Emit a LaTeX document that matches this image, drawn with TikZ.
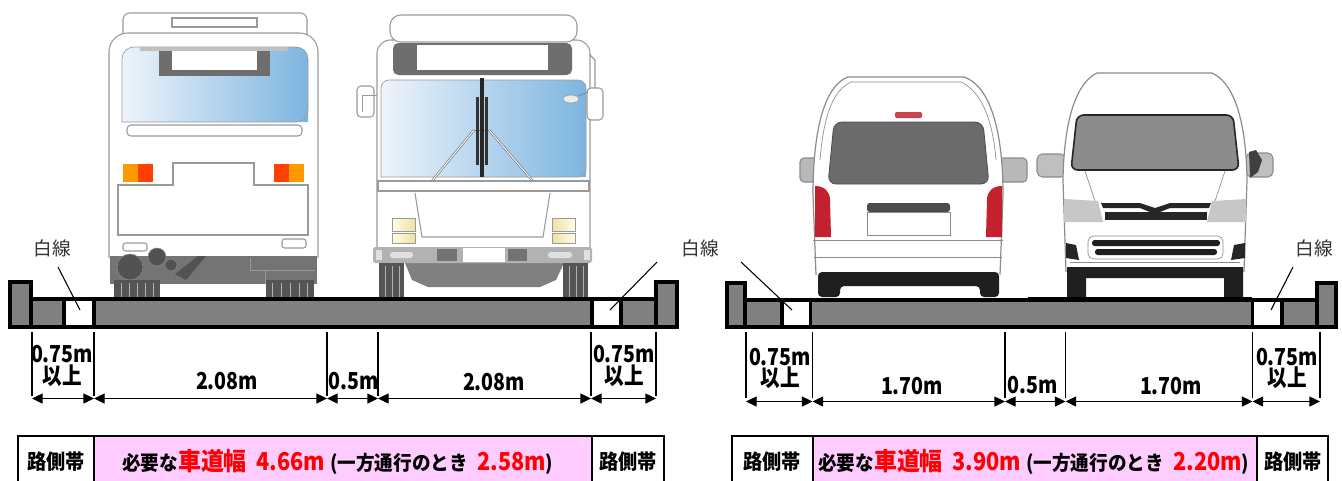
\documentclass[tikz,border=0pt]{standalone}
\usepackage{fontspec}
\newfontfamily\jp{Noto Sans CJK JP}
\newfontfamily\jpn{Noto Sans CJK JP}[FakeStretch=0.93]
\newfontfamily\jpd{Noto Sans CJK JP}[FakeStretch=0.84]
\newfontfamily\jpe{Noto Sans CJK JP}[FakeStretch=0.88]
\usetikzlibrary{arrows.meta,calc}
\definecolor{roadg}{HTML}{808080}
\definecolor{busol}{HTML}{9A9A9A}
\definecolor{glassL}{HTML}{EEF4FB}
\definecolor{glassR}{HTML}{7DB5E0}
\definecolor{dkg}{HTML}{6E6E6E}
\definecolor{undg}{HTML}{747474}
\definecolor{whl}{HTML}{555555}
\definecolor{pinkc}{HTML}{FFCCFF}
\definecolor{redc}{HTML}{FF0000}
\definecolor{vanol}{HTML}{8C8C8C}
\definecolor{vanwin}{HTML}{6B6B6B}
\definecolor{tail}{HTML}{C3212E}
\definecolor{orng}{HTML}{FF9900}
\definecolor{rorng}{HTML}{FF4000}
\definecolor{turn}{HTML}{FFAA00}
\definecolor{hlL}{HTML}{FFFDE8}
\definecolor{hlR}{HTML}{EEE2A0}
\newcommand\txtK[1]{{\jpn\bfseries\fontsize{15}{15}\selectfont #1}}
\newcommand\txtR[1]{{\color{redc}\jpn\bfseries\fontsize{18.5}{18.5}\selectfont #1}}
\newcommand\txtD[1]{{\color{redc}\jpe\bfseries\fontsize{18.5}{18.5}\selectfont #1}}
\tikzset{
 roadfill/.style={fill=roadg, draw=black, line width=3pt},
 whiteline/.style={fill=white, draw=black, line width=3pt},
 ext/.style={line width=0.9pt},
 dim/.style={{Triangle[length=8pt,width=7.5pt]}-{Triangle[length=8pt,width=7.5pt]}, line width=1pt},
 dimlbl/.style={font=\jpd\bfseries\fontsize{17.5}{17.5}\selectfont, inner sep=0pt},
 wlbl/.style={font=\jp\fontsize{14}{14}\selectfont, inner sep=0pt, text=black!80},
 leader/.style={line width=0.8pt},
 cellb/.style={draw=black, line width=1.5pt},
 celltxt/.style={font=\jpn\bfseries\fontsize{15.5}{16}\selectfont, inner sep=0pt},
 maintxt/.style={inner sep=0pt},
 bus/.style={draw=busol, line width=0.8pt},
 van/.style={draw=vanol, line width=0.8pt},
}
\begin{document}
\begin{tikzpicture}[x=0.75pt,y=-0.75pt]
\useasboundingbox (0,0) rectangle (1342,480);
\fill[white] (0,0) rectangle (1342,480);

%================ BUS REAR =================
\draw[bus, fill=white, rounded corners=5pt] (123,36) -- (123,13) -- (307,13) -- (307,36);
\draw[bus, fill=white] (172,18) rectangle (257,27);
\draw[bus, fill=white, rounded corners=14pt] (109,258) -- (109,33) -- (318,33) -- (318,258);
\shade[left color=glassL, right color=glassR, rounded corners=9pt] (122,122) -- (122,47) -- (308,47) -- (308,122);
\draw[bus, line width=0.5pt, rounded corners=9pt] (122,122) -- (122,47) -- (308,47) -- (308,122) -- (122,122);
\fill[black!25] (140,47) rectangle (288,51);
\fill[dkg] (159,51) rectangle (270,76);
\fill[white] (172,51) rectangle (257,70);
\draw[bus, fill=white, rounded corners=3pt] (127,125) rectangle (302,136);
\fill[orng] (123,164) rectangle (138,182);
\fill[rorng] (138,164) rectangle (153,182);
\fill[rorng] (274,164) rectangle (289,182);
\fill[orng] (289,164) rectangle (304,182);
\draw[bus] (118,185) -- (173,185) -- (173,163) -- (254,163) -- (254,185) -- (308,185) -- (308,235) -- (118,235) -- cycle;
\draw[bus, rounded corners=2pt] (123,243) rectangle (147,251);
\draw[bus, rounded corners=2pt] (282,239) rectangle (306,248);
\fill[undg] (110,256) rectangle (317,284);
\draw[black!40, line width=0.5pt] (250,258) -- (250,270) -- (315,270);
\draw[black!40, line width=0.5pt] (265,270) -- (265,284);
\fill[black!68] (175,274) -- (198,256) -- (206,256) -- (186,280) -- cycle;
\draw[black!45, fill=black!68] (130,267) circle[radius=13];
\draw[black!45, fill=black!68] (157,257) circle[radius=9];
\draw[black!45, fill=black!68] (171,265) circle[radius=6];
\fill[whl] (114,280) rectangle (160,297);
\fill[whl] (266,280) rectangle (314,297);
\foreach \xx in {121,129,137,145,153,272,281,290,299,307} {\draw[black!30, line width=0.6pt] (\xx,283) -- (\xx,297);}

%================ BUS FRONT =================
\draw[bus, fill=white, rounded corners=10pt] (377,248) -- (377,40) -- (590,40) -- (590,248);
\draw[bus, fill=white, rounded corners=8pt] (390,15) rectangle (577,42);
\fill[dkg, rounded corners=4pt] (393,43) rectangle (572,75);
\fill[white] (417,45) rectangle (548,70);
\draw[bus] (590,55) -- (595,60) -- (595,88);
\draw[bus, fill=white, rounded corners=3pt] (357,86) rectangle (374,117);
\draw[bus, line width=0.5pt] (362,112) -- (362,95) -- (377,95);
\draw[bus, fill=white, rounded corners=3pt] (587,88) rectangle (603,120);
\shade[left color=glassL, right color=glassR, rounded corners=6pt] (381,177) -- (381,80) -- (586,80) -- (586,177);
\draw[bus, line width=0.5pt, rounded corners=6pt] (381,177) -- (381,80) -- (586,80) -- (586,177) -- (381,177);
\draw[black!40, line width=0.5pt, fill=black!8] (571,99) ellipse[x radius=8, y radius=4];
\draw[black!50, line width=0.5pt] (578,96) -- (588,92);
\draw[double=white, double distance=0.7pt, draw=black!55, line width=0.5pt] (474,130) -- (427,187);
\draw[double=white, double distance=0.7pt, draw=black!55, line width=0.5pt] (489,130) -- (538,187);
\draw[black!55, line width=0.6pt] (474,130) -- (489,130);
\fill[black!85] (422,186) rectangle (432,190);
\fill[black!85] (533,186) rectangle (543,190);
\fill[black!85] (479.5,78) rectangle (483.5,177);
\fill[black!80] (476,97) rectangle (478.5,165);
\fill[black!80] (485,97) rectangle (487.5,165);
\draw[bus, fill=white] (378,181) rectangle (589,191);
\draw[bus] (415,193) -- (422,237) -- (543,237) -- (550,193);
\shade[left color=hlL, right color=hlR, draw=busol, line width=0.4pt] (392,218) rectangle (415,231);
\shade[left color=hlL, right color=hlR, draw=busol, line width=0.4pt] (392,233) rectangle (415,243);
\shade[left color=hlR, right color=hlL, draw=busol, line width=0.4pt] (552,218) rectangle (575,231);
\shade[left color=hlR, right color=hlL, draw=busol, line width=0.4pt] (552,233) rectangle (575,243);
\fill[turn, rounded corners=3pt] (375,218) rectangle (387,238);
\fill[turn, rounded corners=3pt] (579,218) rectangle (591,238);
\fill[black!50] (405,263) -- (564,263) -- (556,280) -- (540,287) -- (428,287) -- (412,280) -- cycle;
\fill[black!30, rounded corners=2pt] (373,247) rectangle (592,263);
\fill[black!12] (376,250) rectangle (382,260);
\fill[black!12, rounded corners=2pt] (390,252) rectangle (413,258);
\fill[black!55] (437,249) rectangle (457,261);
\fill[white] (463,248) rectangle (505,262);
\fill[black!55] (508,249) rectangle (527,261);
\fill[black!12, rounded corners=2pt] (548,252) rectangle (572,258);
\fill[black!12] (584,250) rectangle (590,260);
\fill[whl] (379,263) rectangle (404,297);
\fill[whl] (563,263) rectangle (588,297);
\foreach \xx in {385,392,399,569,576,583} {\draw[black!30, line width=0.6pt] (\xx,266) -- (\xx,297);}

%================ VAN REAR =================
\draw[van, fill=black!28, rounded corners=3pt] (800,158) rectangle (818,182);
\draw[van, fill=black!28, rounded corners=3pt] (999,158) rectangle (1027,182);
\draw[van, line width=0.9pt, fill=white] (816,275) -- (813,195) .. controls (813,125) and (826,85) .. (848,77) -- (964,77) .. controls (988,85) and (1003,125) .. (1003,195) -- (1000,275);
\draw[van, line width=0.5pt] (820,160) .. controls (824,112) and (834,90) .. (851,82) -- (961,82) .. controls (978,90) and (992,112) .. (996,160);
\fill[vanwin, draw=black!70, line width=0.6pt, rounded corners=6pt] (834,122) -- (828,184) -- (989,184) -- (983,122) -- cycle;
\fill[tail!85, rounded corners=1pt] (895,112) rectangle (922,118);
\fill[tail] (815,186) .. controls (825,186) and (830,192) .. (830,200) -- (831,237) -- (815,237) -- cycle;
\fill[tail] (1002,186) .. controls (992,186) and (987,192) .. (987,200) -- (986,237) -- (1002,237) -- cycle;
\fill[black!70, rounded corners=2pt] (867,203) rectangle (950,212);
\draw[van, line width=0.5pt] (867,212) rectangle (950,235);
\draw[van, line width=0.6pt] (813,240) -- (1003,240);
\draw[van, line width=0.6pt] (814,257) -- (1002,257);
\fill[black!88, rounded corners=3pt] (818,272) -- (999,272) -- (999,297) -- (980,297) -- (980,286) -- (840,286) -- (840,297) -- (818,297) -- cycle;

%================ VAN FRONT =================
\draw[van, fill=black!25, rounded corners=4pt] (1037,154) rectangle (1066,177);
\draw[van, fill=black!25, rounded corners=4pt] (1246,153) rectangle (1273,177);
\fill[black!75] (1249,152) -- (1256,150) -- (1262,160) -- (1258,172) -- (1250,178) -- cycle;
\draw[van, line width=0.9pt, fill=white] (1066,272) -- (1063,180) .. controls (1064,115) and (1078,82) .. (1097,73) -- (1212,73) .. controls (1232,82) and (1246,115) .. (1247,180) -- (1244,272);
\draw[black!85, line width=1.2pt, fill=black!45, rounded corners=5pt] (1077,115) -- (1071,170) -- (1239,170) -- (1233,115) -- cycle;
\draw[van, line width=0.5pt] (1085,171) -- (1102,222);
\draw[van, line width=0.5pt] (1225,171) -- (1208,222);
\fill[black!22] (1064,199) -- (1098,201) -- (1103,222) -- (1064,222) -- cycle;
\fill[black!22] (1246,199) -- (1212,201) -- (1207,222) -- (1246,222) -- cycle;
\fill[black!85] (1101,203) -- (1140,203) -- (1155,208) -- (1170,203) -- (1211,203) -- (1209,208) -- (1170,208) -- (1155,214) -- (1140,208) -- (1103,208) -- cycle;
\fill[black!85] (1105,212) rectangle (1207,220);
\draw[van, line width=0.5pt, rounded corners=4pt] (1088,236) rectangle (1223,259);
\fill[black!88, rounded corners=2pt] (1092,240) rectangle (1220,246);
\fill[black!88, rounded corners=2pt] (1095,249) rectangle (1217,255);
\fill[black!85] (1066,243) -- (1076,245) -- (1079,260) -- (1066,258) -- cycle;
\fill[black!85] (1245,243) -- (1234,245) -- (1231,260) -- (1245,258) -- cycle;
\draw[van, line width=0.5pt] (1070,262) -- (1240,262);
\fill[black!88] (1067,267) -- (1243,267) -- (1243,297) -- (1224,297) -- (1224,278) -- (1086,278) -- (1086,297) -- (1067,297) -- cycle;

%================ ROADS =================
\path[roadfill] (10,299) rectangle (677,327);
\path[roadfill] (10,282) rectangle (31,327);
\path[roadfill] (656,282) rectangle (677,327);
\path[whiteline] (64,299) rectangle (94,327);
\path[whiteline] (592,299) rectangle (621,327);

\path[roadfill, line width=2.5pt] (727,300) rectangle (1336,327);
\path[roadfill, line width=2.5pt] (727,283) rectangle (745,327);
\path[roadfill, line width=2.5pt] (1317,283) rectangle (1336,327);
\path[whiteline, line width=2.5pt] (782,300) rectangle (810.5,327);
\path[whiteline, line width=2.5pt] (1252.5,300) rectangle (1282,327);
\draw[line width=1.2pt] (1028,297.6) -- (1252,297.6);

%================ WHITE LINE LABELS =================
\node[wlbl] (wl1) at (52,248) {白線};
\node[wlbl] (wl2) at (700,248) {白線};
\node[wlbl] (wl3) at (1314,248) {白線};
\coordinate (wl1s) at (58,267);   \coordinate (wl1e) at (80,310);
\coordinate (wl2s) at (657,262);  \coordinate (wl2e) at (610,310);
\coordinate (wl2t) at (741,262);  \coordinate (wl2f) at (792,310);
\coordinate (wl3s) at (1293,267); \coordinate (wl3e) at (1271,310);
\draw[leader] (wl1s) -- (wl1e);
\draw[leader] (wl2s) -- (wl2e);
\draw[leader] (wl2t) -- (wl2f);
\draw[leader] (wl3s) -- (wl3e);

%================ DIMENSIONS LEFT =================
\foreach \n/\xx in {a/32,b/94,c/327,d/378,e/591,f/656} {
  \coordinate (L\n t) at (\xx,332);
  \coordinate (L\n b) at (\xx,396);
  \coordinate (L\n) at (\xx,398.5);
  \draw[ext] (L\n t) -- (L\n b);
}
\draw[dim] (La) -- (Lb);
\draw[dim] (Lb) -- (Lc);
\draw[dim] (Lc) -- (Ld);
\draw[dim] (Ld) -- (Le);
\draw[dim] (Le) -- (Lf);
\node[dimlbl] (l1a) at (62,354) {0.75m};
\node[dimlbl] (l1b) at (62,376) {以上};
\node[dimlbl] (l2) at (227,381) {2.08m};
\node[dimlbl] (l3) at (354,381) {0.5m};
\node[dimlbl] (l4) at (494,382) {2.08m};
\node[dimlbl] (l5a) at (624,354) {0.75m};
\node[dimlbl] (l5b) at (624,376) {以上};

%================ DIMENSIONS RIGHT =================
\foreach \n/\xx in {a/746,b/812.5,c/1005,d/1065.5,e/1252.5,f/1320} {
  \coordinate (R\n t) at (\xx,332);
  \coordinate (R\n b) at (\xx,398);
  \coordinate (R\n) at (\xx,401.5);
  \draw[ext] (R\n t) -- (R\n b);
}
\draw[dim] (Ra) -- (Rb);
\draw[dim] (Rb) -- (Rc);
\draw[dim] (Rc) -- (Rd);
\draw[dim] (Rd) -- (Re);
\draw[dim] (Re) -- (Rf);
\node[dimlbl] (r1a) at (780,357) {0.75m};
\node[dimlbl] (r1b) at (780,378) {以上};
\node[dimlbl] (r2) at (912,386) {1.70m};
\node[dimlbl] (r3) at (1033,385) {0.5m};
\node[dimlbl] (r4) at (1171,386) {1.70m};
\node[dimlbl] (r5a) at (1287,357) {0.75m};
\node[dimlbl] (r5b) at (1287,378) {以上};

%================ TABLES =================
\path[cellb, fill=white] (18,436) rectangle (94,492);
\path[cellb, fill=pinkc] (94,436) rectangle (592,492);
\path[cellb, fill=white] (592,436) rectangle (664,492);
\node[celltxt] (tl1) at (56,462) {路側帯};
\node[celltxt] (tl3) at (628,462) {路側帯};
\node[maintxt, anchor=base west] (tl2) at (122,470) {\txtK{必要な}\txtR{車道幅}\kern7pt\txtD{4.66m}\kern4pt\txtK{(一方通行のとき}\kern7pt\txtD{2.58m}\txtK{)}};

\path[cellb, fill=white] (732,436) rectangle (812.5,492);
\path[cellb, fill=pinkc] (812.5,436) rectangle (1256.5,492);
\path[cellb, fill=white] (1256.5,436) rectangle (1328,492);
\node[celltxt] (tr1) at (772,462) {路側帯};
\node[celltxt] (tr3) at (1293,462) {路側帯};
\node[maintxt, anchor=base west] (tr2) at (818,470) {\txtK{必要な}\txtR{車道幅}\kern7pt\txtD{3.90m}\kern4pt\txtK{(一方通行のとき}\kern7pt\txtD{2.20m}\txtK{)}};
\end{tikzpicture}
\end{document}
